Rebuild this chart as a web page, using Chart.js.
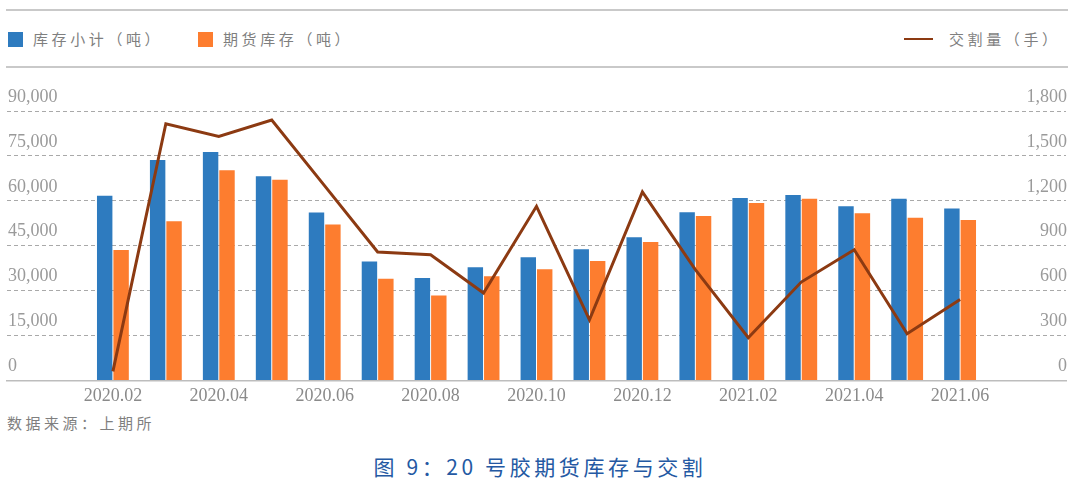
<!DOCTYPE html>
<html>
<head>
<meta charset="utf-8">
<script src="https://cdn.jsdelivr.net/npm/chart.js@4.4.1/dist/chart.umd.min.js"></script>
<style>
  html, body { margin: 0; padding: 0; background: #fff; }
  body { width: 1080px; height: 491px; position: relative; overflow: hidden;
         font-family: "Noto Sans CJK SC", sans-serif; }
  .rule { position: absolute; left: 6px; width: 1062px; height: 2px; background: #c9c9c9; }
  .legend { position: absolute; top: 28px; font-size: 15px; color: #7f7f7f; letter-spacing: 3.6px; line-height: 22px; white-space: nowrap; }
  .sw { display: inline-block; width: 15px; height: 15px; vertical-align: -2px; margin-right: 10px; }
  .ln { display: inline-block; width: 29px; height: 2px; background: #8c3a12; vertical-align: 5px; margin-right: 16px; }
  #wrap { position: absolute; left: 0; top: 72px; width: 1080px; height: 340px; }
  .source { position: absolute; left: 7px; top: 412px; font-size: 15px; color: #7f7f7f; letter-spacing: 3.5px; }
  .title { position: absolute; left: 0; width: 1080px; top: 451px; text-align: center; font-size: 21px; color: #2459a3; letter-spacing: 3.6px; }
</style>
</head>
<body>
<div class="rule" style="top:9px"></div>
<div class="legend" style="left:8px"><span class="sw" style="background:#2e7bbf"></span>库存小计（吨）</div>
<div class="legend" style="left:198px"><span class="sw" style="background:#fd7d2f"></span>期货库存（吨）</div>
<div class="legend" style="left:904px"><span class="ln"></span>交割量（手）</div>
<div class="rule" style="top:66px"></div>
<div id="wrap"><canvas id="chart"></canvas></div>
<div class="source">数据来源：上期所</div>
<div class="title">图 9：20 号胶期货库存与交割</div>

<script>
// months shown on the chart
const months = ['2020.02','2020.03','2020.04','2020.05','2020.06','2020.07','2020.08','2020.09',
  '2020.10','2020.11','2020.12','2021.01','2021.02','2021.03','2021.04','2021.05','2021.06'];
// 库存小计（吨）
const stockTotal = [61700, 73600, 76300, 68200, 56100, 39700, 34200, 37800, 41100,
  43800, 47800, 56200, 60900, 61900, 58200, 60700, 57400];
// 期货库存（吨）
const futuresStock = [43600, 53200, 70200, 67000, 52100, 34000, 28400, 34800, 37100,
  39900, 46200, 54900, 59300, 60700, 55800, 54300, 53600];
// 交割量（手）
const delivery = [60, 1715, 1630, 1740, 1300, 858, 840, 584, 1163,
  405, 1259, 740, 285, 657, 873, 312, 541];
const leftTicks = [0, 15000, 30000, 45000, 60000, 75000, 90000];
const rightTicks = [0, 300, 600, 900, 1200, 1500, 1800];

// two empty slots on each side, like the original axis
const pad = (arr, v) => [v, v, ...arr, v, v];
const labels = pad(months, '');

const numFont = { family: '"Liberation Serif", serif', size: 18 };

new Chart(document.getElementById('chart'), {
  type: 'bar',
  data: {
    labels: labels,
    datasets: [{
      type: 'line',
      label: '交割量（手）',
      data: pad(delivery, null),
      yAxisID: 'y1',
      borderColor: '#8c3a12',
      borderWidth: 3,
      pointRadius: 0,
      tension: 0,
      order: 0
    }, {
      label: '库存小计（吨）',
      data: pad(stockTotal, null),
      backgroundColor: '#2e7bbf',
      yAxisID: 'y',
      order: 1
    }, {
      label: '期货库存（吨）',
      data: pad(futuresStock, null),
      backgroundColor: '#fd7d2f',
      yAxisID: 'y',
      order: 1
    }]
  },
  options: {
    responsive: true,
    maintainAspectRatio: false,
    animation: false,
    categoryPercentage: 0.62,
    barPercentage: 0.94,
    layout: { padding: { left: 5, right: 12, top: 39, bottom: 0 } },
    plugins: { legend: { display: false }, tooltip: { enabled: false } },
    scales: {
      x: {
        offset: false,
        grid: { display: false, drawTicks: false },
        border: { display: true, color: '#bdbdbd', width: 1.5 },
        ticks: {
          autoSkip: false, maxRotation: 0, padding: 5,
          color: '#8a8a8a', font: numFont,
          callback: (v, i) => (i >= 2 && (i - 2) % 2 === 0) ? labels[i] : ''
        }
      },
      y: {
        position: 'left',
        min: 0, max: 90000,
        afterBuildTicks: s => { s.ticks = leftTicks.map(v => ({ value: v })); },
        grid: {
          drawTicks: false,
          color: c => c.tick.value === 0 ? 'rgba(0,0,0,0)' : '#a9a9a9',
          lineWidth: 1
        },
        border: { display: false, dash: [4, 3] },
        ticks: { mirror: true, padding: 1, labelOffset: -14, color: '#9a9a9a', font: numFont }
      },
      y1: {
        position: 'right',
        min: 0, max: 1800,
        afterBuildTicks: s => { s.ticks = rightTicks.map(v => ({ value: v })); },
        grid: { display: false, drawTicks: false },
        border: { display: false },
        ticks: { mirror: true, padding: 1, labelOffset: -14, color: '#9a9a9a', font: numFont }
      }
    }
  }
});
</script>
</body>
</html>
